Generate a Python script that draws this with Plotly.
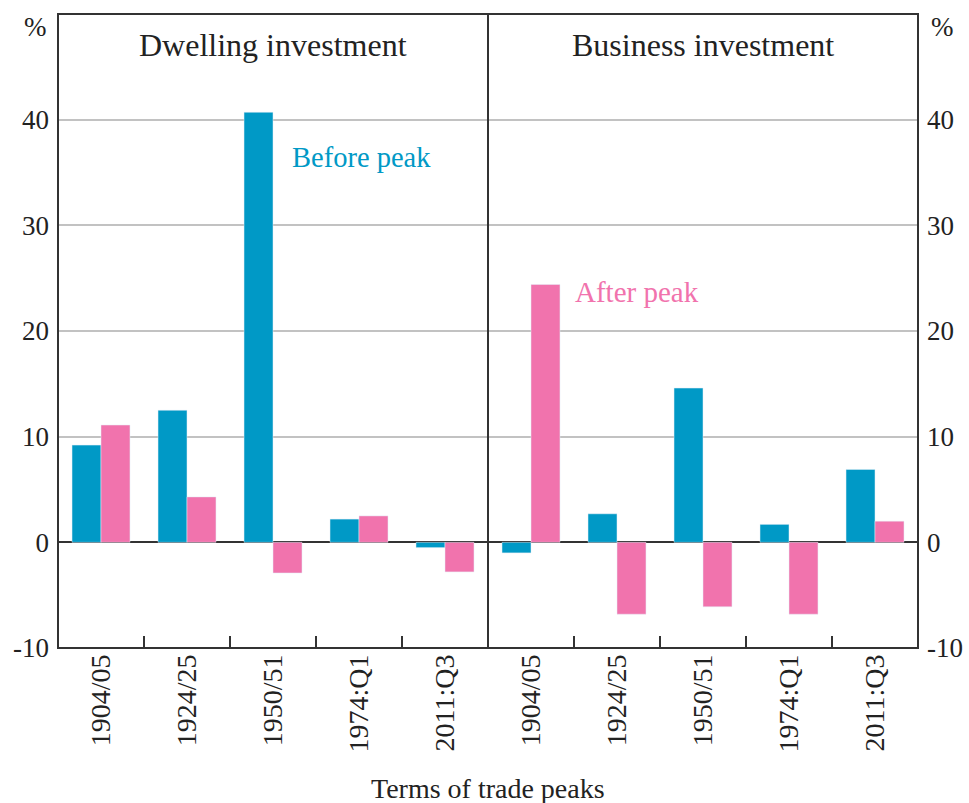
import plotly.graph_objects as go

categories = ["1904/05", "1924/25", "1950/51", "1974:Q1", "2011:Q3"]
dwelling_before = [9.2, 12.5, 40.7, 2.2, -0.5]
dwelling_after = [11.1, 4.3, -2.9, 2.5, -2.8]
business_before = [-1.0, 2.7, 14.6, 1.7, 6.9]
business_after = [24.4, -6.8, -6.1, -6.8, 2.0]
y_ticks = [-10, 0, 10, 20, 30, 40]
y_ticktext = ["-10", "0", "10", "20", "30", "40"]
y_range = [-10, 50]

BLUE = "#0099C6"
PINK = "#F173AD"
DARK = "#333333"
FONT = "Liberation Serif"

fig = go.Figure()
fig.add_trace(go.Bar(x=categories, y=dwelling_before, marker_color=BLUE, xaxis="x", yaxis="y", name="Before peak"))
fig.add_trace(go.Bar(x=categories, y=dwelling_after, marker_color=PINK, xaxis="x", yaxis="y", name="After peak"))
fig.add_trace(go.Bar(x=categories, y=business_before, marker_color=BLUE, xaxis="x2", yaxis="y", name="Before peak"))
fig.add_trace(go.Bar(x=categories, y=business_after, marker_color=PINK, xaxis="x2", yaxis="y", name="After peak"))
# invisible trace to activate right axis
fig.add_trace(go.Scatter(x=[categories[0]], y=[0], xaxis="x2", yaxis="y2", mode="markers",
                         marker=dict(opacity=0), hoverinfo="skip", showlegend=False))

xaxis_common = dict(
    type="category", showgrid=False, zeroline=False, showline=False,
    ticks="inside", tickson="boundaries", ticklen=12, tickwidth=1.5, tickcolor=DARK,
    tickangle=-90, tickfont=dict(family=FONT, size=28, color="#222"),
)
yaxis_common = dict(
    range=y_range, tickvals=y_ticks, ticktext=y_ticktext,
    showgrid=True, gridcolor="#C2C2C2", gridwidth=1.5,
    zeroline=True, zerolinecolor=DARK, zerolinewidth=2, showline=False, ticks="",
    ticklabelstandoff=8,
    tickfont=dict(family=FONT, size=27, color="#222"),
)

fig.update_layout(
    width=969, height=803,
    margin=dict(l=58, r=51, t=14, b=155, autoexpand=False),
    paper_bgcolor="white", plot_bgcolor="white",
    barmode="group", bargap=0.326, bargroupgap=0,
    showlegend=False,
    xaxis=dict(domain=[0, 0.5], anchor="y", **xaxis_common),
    xaxis2=dict(domain=[0.5, 1], anchor="y", **xaxis_common),
    yaxis=dict(anchor="x", side="left", **yaxis_common),
    yaxis2=dict(anchor="x2", side="right", overlaying="y", matches="y", **yaxis_common),
    font=dict(family=FONT, color="#222"),
)

shapes = [
    dict(type="rect", xref="paper", yref="paper", x0=0, x1=1, y0=0, y1=1,
         line=dict(color=DARK, width=2), fillcolor="rgba(0,0,0,0)"),
    dict(type="line", xref="paper", yref="paper", x0=0.5, x1=0.5, y0=0, y1=1,
         line=dict(color=DARK, width=2)),
]
fig.update_layout(shapes=shapes)

annotations = [
    dict(text="Dwelling investment", x=0.25, y=0.951, xref="paper", yref="paper",
         showarrow=False, font=dict(family=FONT, size=32, color="#222"), xanchor="center", yanchor="middle"),
    dict(text="Business investment", x=0.75, y=0.951, xref="paper", yref="paper",
         showarrow=False, font=dict(family=FONT, size=32, color="#222"), xanchor="center", yanchor="middle"),
    dict(text="Before peak", x=0.2698, y=0.773, xref="paper", yref="paper",
         showarrow=False, font=dict(family=FONT, size=28.5, color=BLUE), xanchor="left", yanchor="middle"),
    dict(text="After peak", x=0.5985, y=0.5615, xref="paper", yref="paper",
         showarrow=False, font=dict(family=FONT, size=29, color=PINK), xanchor="left", yanchor="middle"),
    dict(text="%", x=-0.0267, y=0.9795, xref="paper", yref="paper",
         showarrow=False, font=dict(family=FONT, size=27, color="#222"), xanchor="center", yanchor="middle"),
    dict(text="%", x=1.029, y=0.9795, xref="paper", yref="paper",
         showarrow=False, font=dict(family=FONT, size=27, color="#222"), xanchor="center", yanchor="middle"),
    dict(text="Terms of trade peaks", x=0.5, y=-0.221, xref="paper", yref="paper",
         showarrow=False, font=dict(family=FONT, size=28, color="#222"), xanchor="center", yanchor="middle"),
]
fig.update_layout(annotations=annotations)

fig.write_html(
    "out.html",
    config={"displayModeBar": False},
    post_script="document.body.style.margin='0';document.body.style.overflow='hidden';",
)
